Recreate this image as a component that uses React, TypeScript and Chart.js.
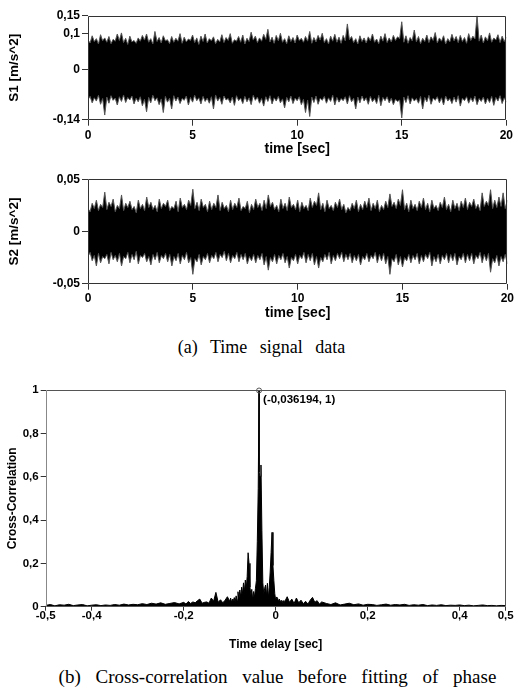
import React, { useEffect, useRef } from "react";
import { Chart, registerables } from "chart.js";

Chart.register(...registerables);

// ---------- data ----------
const timeStep = 0.2; // spacing of the envelope readings [sec]; core readings sit halfway between tips
const timeTicks = [0, 5, 10, 15, 20];

// S1 envelope: spike tips (t = 0, 0.2, ... 20) and core edge between them (t = 0.1, 0.3, ... 19.9)
const s1UpperTips = [
  0.082, 0.094, 0.086, 0.097, 0.088, 0.092, 0.084, 0.099, 0.102, 0.087,
  0.093, 0.081, 0.088, 0.095, 0.099, 0.086, 0.106, 0.089, 0.094, 0.083,
  0.092, 0.087, 0.100, 0.090, 0.085, 0.096, 0.088, 0.093, 0.099, 0.086,
  0.091, 0.084, 0.097, 0.089, 0.100, 0.083, 0.092, 0.096, 0.087, 0.104,
  0.093, 0.088, 0.098, 0.112, 0.090, 0.095, 0.101, 0.086, 0.094, 0.089,
  0.096, 0.087, 0.092, 0.106, 0.089, 0.095, 0.101, 0.086, 0.093, 0.098,
  0.090, 0.095, 0.127, 0.092, 0.086, 0.094, 0.088, 0.091, 0.099, 0.085,
  0.093, 0.100, 0.088, 0.095, 0.091, 0.133, 0.094, 0.089, 0.110, 0.092,
  0.087, 0.096, 0.091, 0.103, 0.088, 0.094, 0.086, 0.098, 0.092, 0.095,
  0.089, 0.100, 0.093, 0.150, 0.096, 0.091, 0.102, 0.088, 0.097, 0.093,
  0.090,
];
const s1UpperCore = [
  0.074, 0.078, 0.071, 0.080, 0.076, 0.072, 0.079, 0.081, 0.075, 0.070,
  0.077, 0.073, 0.079, 0.082, 0.076, 0.071, 0.078, 0.074, 0.080, 0.072,
  0.076, 0.079, 0.073, 0.077, 0.081, 0.075, 0.070, 0.078, 0.074, 0.080,
  0.072, 0.077, 0.075, 0.081, 0.073, 0.079, 0.076, 0.071, 0.078, 0.082,
  0.075, 0.079, 0.084, 0.077, 0.073, 0.080, 0.076, 0.072, 0.078, 0.074,
  0.081, 0.076, 0.079, 0.073, 0.077, 0.082, 0.075, 0.071, 0.079, 0.076,
  0.073, 0.080, 0.083, 0.075, 0.071, 0.078, 0.074, 0.080, 0.076, 0.072,
  0.079, 0.075, 0.077, 0.081, 0.086, 0.076, 0.073, 0.080, 0.077, 0.072,
  0.078, 0.075, 0.081, 0.074, 0.079, 0.071, 0.077, 0.080, 0.075, 0.078,
  0.073, 0.081, 0.085, 0.079, 0.074, 0.080, 0.076, 0.082, 0.075, 0.078,
];
const s1LowerTips = [
  -0.084, -0.093, -0.088, -0.097, -0.127, -0.094, -0.086, -0.099, -0.089, -0.092,
  -0.085, -0.096, -0.090, -0.101, -0.118, -0.093, -0.087, -0.098, -0.120, -0.091,
  -0.110, -0.088, -0.095, -0.086, -0.099, -0.091, -0.087, -0.096, -0.089, -0.094,
  -0.110, -0.088, -0.097, -0.085, -0.093, -0.100, -0.087, -0.095, -0.090, -0.098,
  -0.086, -0.094, -0.102, -0.089, -0.096, -0.088, -0.093, -0.107, -0.090, -0.095,
  -0.087, -0.098, -0.120, -0.131, -0.092, -0.097, -0.086, -0.094, -0.089, -0.099,
  -0.091, -0.087, -0.096, -0.090, -0.110, -0.093, -0.088, -0.097, -0.090, -0.095,
  -0.101, -0.087, -0.093, -0.098, -0.089, -0.135, -0.092, -0.096, -0.088, -0.094,
  -0.110, -0.090, -0.097, -0.086, -0.093, -0.099, -0.088, -0.095, -0.091, -0.102,
  -0.087, -0.094, -0.090, -0.098, -0.089, -0.096, -0.092, -0.100, -0.088, -0.095,
  -0.091,
];
const s1LowerCore = [
  -0.075, -0.079, -0.072, -0.081, -0.077, -0.073, -0.080, -0.076, -0.071, -0.078,
  -0.074, -0.080, -0.076, -0.083, -0.078, -0.072, -0.079, -0.082, -0.075, -0.080,
  -0.073, -0.077, -0.081, -0.074, -0.078, -0.072, -0.079, -0.075, -0.080, -0.076,
  -0.071, -0.078, -0.074, -0.081, -0.077, -0.073, -0.080, -0.075, -0.079, -0.072,
  -0.077, -0.081, -0.076, -0.073, -0.079, -0.075, -0.082, -0.078, -0.074, -0.080,
  -0.076, -0.083, -0.085, -0.077, -0.074, -0.080, -0.075, -0.079, -0.072, -0.078,
  -0.081, -0.076, -0.073, -0.080, -0.077, -0.074, -0.079, -0.075, -0.081, -0.072,
  -0.078, -0.076, -0.080, -0.083, -0.085, -0.077, -0.073, -0.079, -0.081, -0.075,
  -0.078, -0.072, -0.080, -0.076, -0.079, -0.074, -0.081, -0.077, -0.073, -0.080,
  -0.076, -0.079, -0.074, -0.081, -0.077, -0.080, -0.075, -0.078, -0.073, -0.079,
];
const s1Ticks = [-0.14, 0, 0.1, 0.15];

// S2 envelope
const s2UpperTips = [
  0.022, 0.027, 0.030, 0.026, 0.0377, 0.028, 0.031, 0.025, 0.035, 0.027,
  0.029, 0.024, 0.030, 0.026, 0.033, 0.028, 0.025, 0.031, 0.027, 0.030,
  0.024, 0.029, 0.032, 0.026, 0.030, 0.0405, 0.028, 0.031, 0.026, 0.029,
  0.027, 0.035, 0.028, 0.025, 0.030, 0.027, 0.032, 0.024, 0.029, 0.026,
  0.031, 0.027, 0.030, 0.035, 0.028, 0.025, 0.031, 0.027, 0.033, 0.026,
  0.030, 0.028, 0.025, 0.032, 0.029, 0.037, 0.027, 0.030, 0.025, 0.028,
  0.031, 0.026, 0.023, 0.027, 0.030, 0.026, 0.029, 0.032, 0.027, 0.030,
  0.025, 0.029, 0.036, 0.028, 0.031, 0.040, 0.027, 0.030, 0.026, 0.029,
  0.032, 0.027, 0.030, 0.025, 0.028, 0.033, 0.026, 0.030, 0.027, 0.029,
  0.032, 0.028, 0.031, 0.026, 0.037, 0.029, 0.040, 0.030, 0.033, 0.037,
  0.030,
];
const s2UpperCore = [
  0.019, 0.022, 0.020, 0.023, 0.021, 0.024, 0.019, 0.022, 0.020, 0.023,
  0.021, 0.018, 0.022, 0.020, 0.023, 0.021, 0.019, 0.022, 0.024, 0.020,
  0.022, 0.019, 0.023, 0.021, 0.025, 0.022, 0.020, 0.023, 0.019, 0.021,
  0.023, 0.020, 0.022, 0.019, 0.021, 0.023, 0.020, 0.022, 0.018, 0.021,
  0.023, 0.020, 0.022, 0.024, 0.021, 0.019, 0.022, 0.020, 0.023, 0.021,
  0.019, 0.022, 0.020, 0.023, 0.025, 0.021, 0.019, 0.022, 0.020, 0.023,
  0.021, 0.018, 0.020, 0.022, 0.019, 0.021, 0.023, 0.020, 0.022, 0.019,
  0.021, 0.023, 0.024, 0.022, 0.025, 0.021, 0.019, 0.022, 0.020, 0.023,
  0.021, 0.019, 0.022, 0.020, 0.023, 0.021, 0.019, 0.022, 0.020, 0.023,
  0.021, 0.024, 0.022, 0.020, 0.024, 0.025, 0.022, 0.023, 0.024, 0.022,
];
const s2LowerTips = [
  -0.024, -0.028, -0.033, -0.030, -0.026, -0.031, -0.027, -0.029, -0.033, -0.026,
  -0.030, -0.027, -0.031, -0.025, -0.029, -0.032, -0.027, -0.030, -0.026, -0.029,
  -0.033, -0.028, -0.031, -0.027, -0.030, -0.041, -0.029, -0.032, -0.027, -0.030,
  -0.026, -0.029, -0.025, -0.028, -0.030, -0.026, -0.029, -0.027, -0.031, -0.028,
  -0.030, -0.027, -0.032, -0.037, -0.029, -0.031, -0.027, -0.030, -0.035, -0.028,
  -0.031, -0.026, -0.030, -0.028, -0.032, -0.035, -0.029, -0.027, -0.031, -0.028,
  -0.026, -0.029, -0.027, -0.030, -0.028, -0.032, -0.027, -0.029, -0.026, -0.030,
  -0.028, -0.031, -0.041, -0.029, -0.032, -0.034, -0.028, -0.030, -0.027, -0.031,
  -0.029, -0.026, -0.033, -0.029, -0.031, -0.027, -0.030, -0.028, -0.032, -0.027,
  -0.030, -0.028, -0.031, -0.026, -0.030, -0.028, -0.039, -0.030, -0.033, -0.029,
  -0.031,
];
const s2LowerCore = [
  -0.020, -0.023, -0.021, -0.024, -0.022, -0.020, -0.023, -0.021, -0.024, -0.020,
  -0.022, -0.019, -0.023, -0.021, -0.024, -0.022, -0.020, -0.023, -0.021, -0.022,
  -0.024, -0.021, -0.023, -0.020, -0.025, -0.026, -0.022, -0.024, -0.021, -0.023,
  -0.020, -0.022, -0.019, -0.021, -0.023, -0.020, -0.022, -0.021, -0.024, -0.022,
  -0.023, -0.021, -0.024, -0.025, -0.022, -0.023, -0.021, -0.024, -0.025, -0.022,
  -0.023, -0.020, -0.022, -0.021, -0.024, -0.025, -0.022, -0.020, -0.023, -0.021,
  -0.020, -0.022, -0.021, -0.023, -0.022, -0.024, -0.021, -0.023, -0.020, -0.022,
  -0.021, -0.024, -0.026, -0.022, -0.024, -0.025, -0.022, -0.023, -0.021, -0.023,
  -0.022, -0.020, -0.024, -0.022, -0.023, -0.021, -0.022, -0.021, -0.024, -0.021,
  -0.022, -0.021, -0.023, -0.020, -0.022, -0.021, -0.026, -0.023, -0.024, -0.022,
];
const s2Ticks = [-0.05, 0, 0.05];

// Cross-correlation, sampled in segments (start, step, values)
const ccLeftTailStart = -0.5;
const ccLeftTailStep = 0.01;
const ccLeftTail = [
  0.006, 0.010, 0.004, 0.009, 0.007, 0.011, 0.005, 0.008, 0.010, 0.004,
  0.007, 0.009, 0.005, 0.008, 0.006, 0.010, 0.007, 0.012, 0.008, 0.011,
  0.009, 0.014, 0.010, 0.016, 0.012, 0.018, 0.011, 0.015, 0.019, 0.013,
];
const ccMidLeftStart = -0.2;
const ccMidLeftStep = 0.005;
const ccMidLeft = [
  0.020, 0.012, 0.024, 0.015, 0.022, 0.018, 0.028, 0.035, 0.016, 0.020,
  0.022, 0.016, 0.040, 0.025, 0.066, 0.020, 0.032, 0.018, 0.030, 0.046,
];
const ccCenterStart = -0.1;
const ccCenterStep = 0.002;
const ccCenter = [
  0.025, 0.040, 0.020, 0.035, 0.028, 0.042, 0.022, 0.050, 0.030, 0.069,
  0.035, 0.077, 0.045, 0.090, 0.060, 0.110, 0.070, 0.123, 0.085, 0.140,
  0.249, 0.200, 0.090, 0.055, 0.080, 0.030, 0.070, 0.045, 0.085, 0.120,
  0.300, 0.546, 0.620, 0.600, 0.654, 0.350, 0.110, 0.060, 0.085, 0.100,
  0.050, 0.108, 0.040, 0.090, 0.160, 0.250, 0.343, 0.190, 0.120, 0.060,
  0.030, 0.045, 0.040, 0.025, 0.035, 0.020, 0.030, 0.018, 0.028, 0.015,
  0.025,
];
const ccMidRightStart = 0.025;
const ccMidRightStep = 0.005;
const ccMidRight = [
  0.046, 0.020, 0.035, 0.015, 0.040, 0.018, 0.030, 0.014, 0.025, 0.012,
  0.030, 0.043, 0.020, 0.028, 0.012, 0.022,
];
const ccRightTailStart = 0.11;
const ccRightTailStep = 0.01;
const ccRightTail = [
  0.015, 0.010, 0.018, 0.008, 0.012, 0.016, 0.009, 0.013, 0.007, 0.011,
  0.010, 0.006, 0.009, 0.012, 0.007, 0.010, 0.008, 0.011, 0.006, 0.009,
  0.007, 0.010, 0.005, 0.008, 0.006, 0.009, 0.005, 0.007, 0.006, 0.008,
  0.005, 0.007, 0.004, 0.006, 0.008, 0.005, 0.006, 0.004, 0.006, 0.005,
];
const ccPeakLag = -0.036194;
const ccPeakValue = 1;
const lagTicks = [-0.5, -0.4, -0.2, 0, 0.2, 0.4, 0.5];
const ccTicks = [0, 0.2, 0.4, 0.6, 0.8, 1];

// ---------- helpers ----------
const FAMILY = '"Liberation Sans", Arial, sans-serif';
const fmt = (v: number) => String(Number(Number(v).toFixed(4))).replace(".", ",");

function seg(start: number, step: number, vals: number[]) {
  return vals.map((v, i) => ({ x: start + i * step, y: v }));
}

// interleave tips (at i*step) with core-edge readings (at i*step + step/2)
function envelope(tips: number[], core: number[]) {
  const out: { x: number; y: number }[] = [];
  tips.forEach((v, i) => {
    out.push({ x: i * timeStep, y: v });
    if (i < core.length) out.push({ x: i * timeStep + timeStep / 2, y: core[i] });
  });
  return out;
}

const framePlugin = {
  id: "frame",
  afterDraw(chart: any, _args: any, opts: any) {
    const { ctx, chartArea: a } = chart;
    ctx.save();
    ctx.lineWidth = 1;
    const l = Math.round(a.left) + 0.5;
    const t = Math.round(a.top) + 0.5;
    const r = Math.round(a.right) - 0.5;
    const b = Math.round(a.bottom) - 0.5;
    ctx.strokeStyle = opts.color || "#333";
    ctx.beginPath();
    ctx.moveTo(l, t);
    ctx.lineTo(r, t);
    ctx.lineTo(r, b);
    ctx.lineTo(l, b);
    ctx.stroke();
    ctx.strokeStyle = opts.leftColor || opts.color || "#333";
    ctx.beginPath();
    ctx.moveTo(l, t);
    ctx.lineTo(l, b);
    ctx.stroke();
    ctx.restore();
  },
};

const peakLabelPlugin = {
  id: "peakLabel",
  afterDatasetsDraw(chart: any) {
    const { ctx, scales } = chart;
    const px = scales.x.getPixelForValue(ccPeakLag);
    const py = scales.y.getPixelForValue(ccPeakValue);
    ctx.save();
    ctx.strokeStyle = "#555";
    ctx.lineWidth = 1;
    ctx.beginPath();
    ctx.arc(px, py + 0.5, 2.5, 0, Math.PI * 2);
    ctx.stroke();
    ctx.fillStyle = "#000";
    ctx.font = `bold 11.5px ${FAMILY}`;
    ctx.textAlign = "left";
    ctx.textBaseline = "middle";
    const label = `(${String(ccPeakLag).replace(".", ",")}, ${ccPeakValue})`;
    ctx.fillText(label, px + 4, py + 10);
    ctx.restore();
  },
};

interface Geom {
  top: number;
  right: number;
  yWidth: number;
  xHeight: number;
  xTickLen: number;
  xTickPad: number;
  xTickSize: number;
  xTickLH: number;
  xTitleSize: number;
  xTitlePad: number;
  yTickLen: number;
  yTickPad: number;
  yTickSize: number;
  yTitleSize: number;
  yTitlePad: number;
}

function axes(g: Geom, xMin: number, xMax: number, xTicks: number[], xTitle: string,
  yMin: number, yMax: number, yTicks: number[], yTitle: string) {
  return {
    x: {
      type: "linear",
      min: xMin,
      max: xMax,
      afterBuildTicks: (s: any) => { s.ticks = xTicks.map((v) => ({ value: v })); },
      afterFit: (s: any) => { s.height = g.xHeight; },
      grid: { drawOnChartArea: false, drawTicks: true, tickLength: g.xTickLen, color: "#333" },
      border: { display: false },
      ticks: {
        color: "#000",
        autoSkip: false,
        maxRotation: 0,
        padding: g.xTickPad,
        font: { family: FAMILY, size: g.xTickSize, weight: "bold", lineHeight: g.xTickLH },
        callback: (v: any) => fmt(v),
      },
      title: {
        display: true,
        text: xTitle,
        color: "#000",
        font: { family: FAMILY, size: g.xTitleSize, weight: "bold", lineHeight: 1.2 },
        padding: { top: 0, bottom: g.xTitlePad },
      },
    },
    y: {
      type: "linear",
      min: yMin,
      max: yMax,
      afterBuildTicks: (s: any) => { s.ticks = yTicks.map((v) => ({ value: v })); },
      afterFit: (s: any) => { s.width = g.yWidth; },
      grid: { drawOnChartArea: false, drawTicks: true, tickLength: g.yTickLen, color: "#333" },
      border: { display: false },
      ticks: {
        color: "#000",
        autoSkip: false,
        padding: g.yTickPad,
        font: { family: FAMILY, size: g.yTickSize, weight: "bold", lineHeight: 1.2 },
        callback: (v: any) => fmt(v),
      },
      title: {
        display: true,
        text: yTitle,
        color: "#000",
        font: { family: FAMILY, size: g.yTitleSize, weight: "bold", lineHeight: 1.2 },
        padding: { top: g.yTitlePad, bottom: 0 },
      },
    },
  };
}

function signalConfig(upperTips: number[], upperCore: number[], lowerTips: number[], lowerCore: number[],
  yTicks: number[], yTitle: string, g: Geom): any {
  return {
    type: "line",
    data: {
      datasets: [
        { data: envelope(lowerTips, lowerCore), borderColor: "#555", borderWidth: 1, pointRadius: 0, fill: false, tension: 0 },
        { data: envelope(upperTips, upperCore), borderColor: "#555", borderWidth: 1, pointRadius: 0, fill: "-1", backgroundColor: "#000", tension: 0 },
      ],
    },
    options: {
      animation: false,
      responsive: false,
      events: [],
      layout: { padding: { left: 0, right: g.right, top: g.top, bottom: 0 } },
      plugins: { legend: { display: false }, tooltip: { enabled: false }, frame: { color: "#333" } },
      scales: axes(g, 0, 20, timeTicks, "time [sec]", yTicks[0], yTicks[yTicks.length - 1], yTicks, yTitle),
    },
    plugins: [framePlugin],
  };
}

function ccConfig(g: Geom): any {
  const pts = [
    ...seg(ccLeftTailStart, ccLeftTailStep, ccLeftTail),
    ...seg(ccMidLeftStart, ccMidLeftStep, ccMidLeft),
    ...seg(ccCenterStart, ccCenterStep, ccCenter),
    { x: ccPeakLag, y: ccPeakValue },
    ...seg(ccMidRightStart, ccMidRightStep, ccMidRight),
    ...seg(ccRightTailStart, ccRightTailStep, ccRightTail),
  ].sort((a, b) => a.x - b.x);
  return {
    type: "line",
    data: {
      datasets: [
        { data: pts, borderColor: "#000", borderWidth: 1, pointRadius: 0, fill: "origin", backgroundColor: "#000", tension: 0 },
      ],
    },
    options: {
      animation: false,
      responsive: false,
      events: [],
      layout: { padding: { left: 0, right: g.right, top: g.top, bottom: 0 } },
      plugins: { legend: { display: false }, tooltip: { enabled: false }, frame: { color: "#555", leftColor: "#888" } },
      scales: axes(g, -0.5, 0.5, lagTicks, "Time delay [sec]", 0, 1, ccTicks, "Cross-Correlation"),
    },
    plugins: [framePlugin, peakLabelPlugin],
  };
}

function ChartCanvas({ top, height, make }: { top: number; height: number; make: () => any }) {
  const ref = useRef<HTMLCanvasElement | null>(null);
  useEffect(() => {
    if (!ref.current) return;
    const chart = new Chart(ref.current, make());
    return () => chart.destroy();
  }, []);
  return (
    <canvas
      ref={ref}
      width={516}
      height={height}
      style={{ position: "absolute", left: 0, top, width: 516, height, display: "block" }}
    />
  );
}

const g1: Geom = {
  top: 15.7, right: 7.5, yWidth: 88, xHeight: 40.3,
  xTickLen: 6, xTickPad: 3, xTickSize: 12, xTickLH: 1.2, xTitleSize: 14, xTitlePad: 2.6,
  yTickLen: 6, yTickPad: 2, yTickSize: 12, yTitleSize: 13.5, yTitlePad: 6.6,
};
const g2: Geom = {
  top: 19.3, right: 7.5, yWidth: 88, xHeight: 46.3,
  xTickLen: 6, xTickPad: 2, xTickSize: 12, xTickLH: 1.2, xTitleSize: 14, xTitlePad: 8.6,
  yTickLen: 6, yTickPad: 2, yTickSize: 12, yTitleSize: 13.5, yTitlePad: 6.6,
};
const g3: Geom = {
  top: 20, right: 10.3, yWidth: 45.7, xHeight: 53.3,
  xTickLen: 4, xTickPad: -1, xTickSize: 11.5, xTickLH: 1, xTitleSize: 12, xTitlePad: 7.8,
  yTickLen: 5, yTickPad: 2, yTickSize: 11.5, yTitleSize: 12, yTitlePad: 5.3,
};

const captionStyle: React.CSSProperties = {
  position: "absolute",
  width: 500,
  textAlign: "center",
  fontFamily: '"Liberation Serif", "Times New Roman", serif',
  lineHeight: "20px",
  whiteSpace: "nowrap",
  color: "#000",
};

export default function App() {
  return (
    <div style={{ position: "absolute", left: 0, top: 0, width: 516, height: 688, background: "#fff", overflow: "hidden" }}>
      <ChartCanvas top={0} height={160} make={() => signalConfig(s1UpperTips, s1UpperCore, s1LowerTips, s1LowerCore, s1Ticks, "S1 [m/s^2]", g1)} />
      <ChartCanvas top={160} height={170} make={() => signalConfig(s2UpperTips, s2UpperCore, s2LowerTips, s2LowerCore, s2Ticks, "S2 [m/s^2]", g2)} />
      <div style={{ ...captionStyle, left: 11.5, top: 337, fontSize: 18, wordSpacing: 8 }}>(a) Time signal data</div>
      <ChartCanvas top={370} height={290} make={() => ccConfig(g3)} />
      <div style={{ ...captionStyle, left: 27.5, top: 667, fontSize: 19, wordSpacing: 10 }}>(b) Cross-correlation value before fitting of phase</div>
    </div>
  );
}
